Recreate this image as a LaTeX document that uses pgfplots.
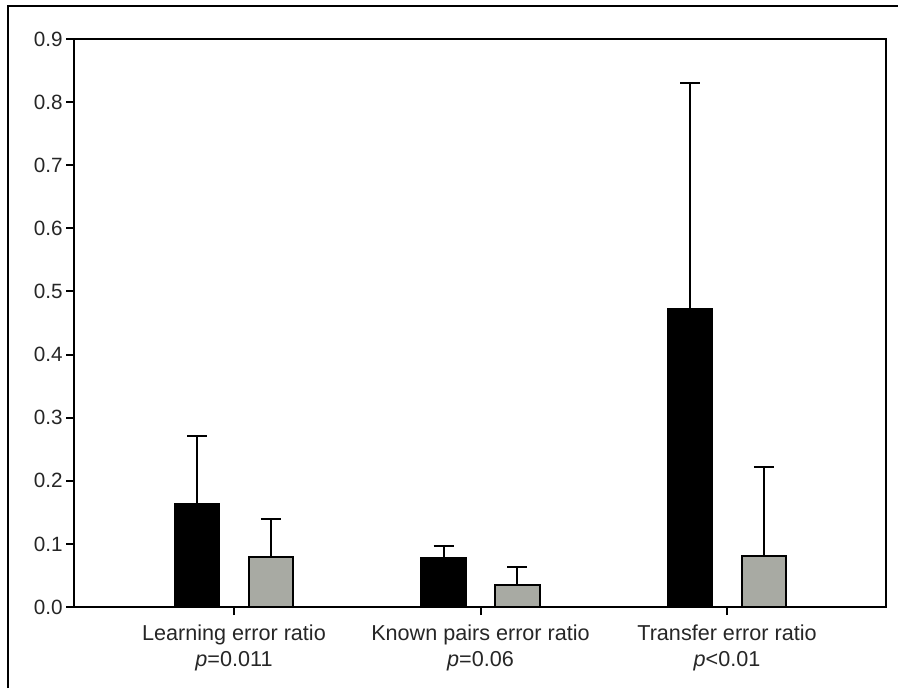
\documentclass[border=0pt]{standalone}
\usepackage{fontspec}
\setmainfont{Liberation Sans}
\usepackage{pgfplots}
\pgfplotsset{compat=1.18}
\definecolor{bargray}{RGB}{168,170,163}
\begin{document}
\begin{tikzpicture}
\useasboundingbox (0pt,0pt) rectangle (673.5pt,516pt);
\draw[line width=1.8pt, black] (6pt,0pt) -- (6pt,511.5pt) -- (675pt,511.5pt);
\begin{axis}[
  at={(55.5pt,60.75pt)}, anchor=south west,
  scale only axis, width=609pt, height=426pt,
  xmin=0.351, xmax=3.645, ymin=0, ymax=0.9,
  ybar, bar width=0.18,
  axis line style={line width=1.5pt},
  xtick={1,2,3},
  xticklabels={Learning error ratio\\\textit{p}=0.011, Known pairs error ratio\\\textit{p}=0.06, Transfer error ratio\\\textit{p}<0.01},
  xticklabel style={align=center, font=\fontsize{16.2}{19.5}\selectfont, text=black!85, yshift=-3.5pt},
  ytick={0,0.1,...,0.9},
  yticklabel style={font=\fontsize{15.5}{18}\selectfont, text=black!85, xshift=1pt, /pgf/number format/fixed, /pgf/number format/fixed zerofill, /pgf/number format/precision=1, /pgf/number format/assume math mode=true},
  tick align=outside, xtick pos=bottom, ytick pos=left,
  major tick length=6pt,
  every tick/.style={line width=1.5pt, black},
]
\addplot[fill=black, draw=black, line width=1.5pt, bar shift=-0.15,
  error bars/.cd, y dir=plus, y explicit,
  error bar style={line width=1.5pt, black},
  error mark options={rotate=90, mark size=7.5pt, line width=1.5pt, black}]
  coordinates {(1,0.163) +- (0,0.108) (2,0.078) +- (0,0.018) (3,0.472) +- (0,0.359)};
\addplot[fill=bargray, draw=black, line width=1.5pt, bar shift=0.15,
  error bars/.cd, y dir=plus, y explicit,
  error bar style={line width=1.5pt, black},
  error mark options={rotate=90, mark size=7.5pt, line width=1.5pt, black}]
  coordinates {(1,0.079) +- (0,0.060) (2,0.035) +- (0,0.029) (3,0.0805) +- (0,0.1415)};
\end{axis}
\end{tikzpicture}
\end{document}
